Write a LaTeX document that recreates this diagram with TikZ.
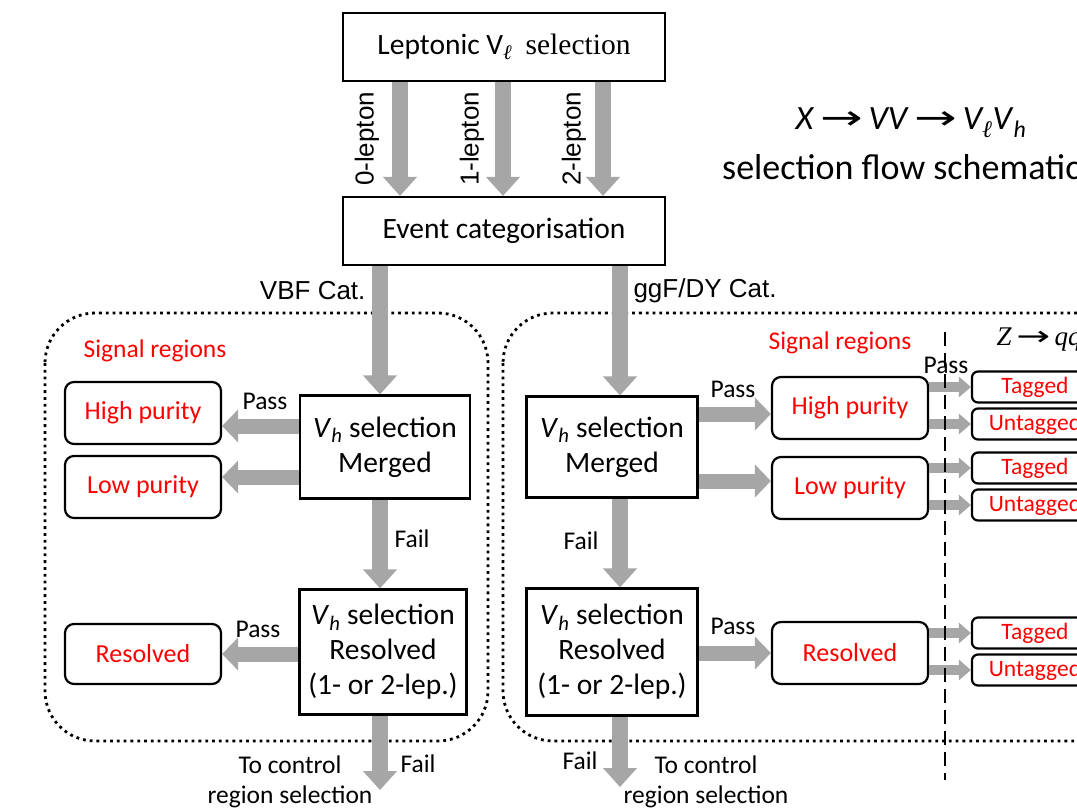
\documentclass[tikz,border=0pt]{standalone}
\usepackage{fontspec}
\setmainfont{Carlito}
\newfontfamily\arialfont{Liberation Sans}
\newfontfamily\serifont{Liberation Serif}
\newfontfamily\symfont{DejaVu Sans}
\usepackage{xcolor}
\usepackage{graphicx}
\usepackage{tikz}
\usetikzlibrary{arrows.meta, positioning, calc}

\definecolor{arrowgray}{RGB}{166,166,166}
\newcommand{\Vh}{\textit{V}\textsubscript{\textit{h}}}
\newcommand{\Vl}{V\textsubscript{{\serifont\itshape ℓ}}}
\newcommand{\rarr}{\,\scalebox{1.5}[1]{\symfont →}\,}

\begin{document}
\begin{tikzpicture}[
  x=1pt, y=-1pt,
  selbox/.style={draw, fill=white, line width=2.2pt, align=center, inner sep=0pt,
    font=\fontsize{29.5}{35}\selectfont},
  region/.style={draw, fill=white, rounded corners=9pt, line width=2.2pt, text=red,
    minimum width=156pt, minimum height=62pt, font=\fontsize{26}{30}\selectfont},
  tagbox/.style={draw, fill=white, rounded corners=6pt, line width=2.2pt, text=red,
    minimum width=126pt, minimum height=31pt, inner sep=0pt,
    font=\fontsize{23.5}{27}\selectfont},
  lbl/.style={font=\fontsize{25.5}{30}\selectfont},
  arlbl/.style={font=\arialfont\fontsize{26}{30}\selectfont},
  group/.style={line width=2.8pt, dash pattern=on 2.8pt off 4pt, rounded corners=50pt},
  fat/.style={line width=16pt, arrowgray, -{Triangle[length=19pt, width=33pt]}},
  fatH/.style={line width=15pt, arrowgray, -{Triangle[length=16pt, width=32pt]}},
  slim/.style={line width=10pt, arrowgray, -{Triangle[length=12pt, width=20pt]}},
]
  \useasboundingbox (0,0) rectangle (1077,807);
  \clip (0,0) rectangle (1077,807);

  % dotted category regions
  \draw[group] (45,313) rectangle (488,741);
  \draw[group] (503,313) rectangle (1140,741);

  \node (lep) [selbox, minimum width=322pt, minimum height=68pt] at (504,47)
    {Leptonic \Vl\ \ {\serifont selection}};
  \node (evt) [selbox, minimum width=322pt, minimum height=68pt] at (504,231)
    {Event categorisation};

  \node (mergL) [selbox, minimum width=170pt, minimum height=103pt] at (385,447)
    {\Vh\ selection\\Merged};
  \node (resL) [selbox, minimum width=167pt, minimum height=125pt] at (383,652)
    {\Vh\ selection\\Resolved\\(1- or 2-lep.)};
  \node (mergR) [selbox, minimum width=171pt, minimum height=101pt] at (612,447)
    {\Vh\ selection\\Merged};
  \node (resR) [selbox, minimum width=171pt, minimum height=127pt] at (612,652)
    {\Vh\ selection\\Resolved\\(1- or 2-lep.)};

  \node (hpL) [region] at (143,413) {High purity};
  \node (lpL) [region] at (143,487) {Low purity};
  \node (rsL) [region, minimum height=60pt] at (143,654) {Resolved};
  \node (hpR) [region] at (850,408) {High purity};
  \node (lpR) [region] at (850,488) {Low purity};
  \node (rsR) [region] at (850,653) {Resolved};

  \node (tg1) [tagbox] at (1035,387) {Tagged};
  \node (ut1) [tagbox] at (1035,424) {Untagged};
  \node (tg2) [tagbox] at (1035,468) {Tagged};
  \node (ut2) [tagbox] at (1035,505) {Untagged};
  \node (tg3) [tagbox] at (1035,633) {Tagged};
  \node (ut3) [tagbox] at (1035,670) {Untagged};

  \coordinate (ctlL) at (380,790);
  \coordinate (ctlR) at (620,787);

  % lepton channels
  \draw[fat] ([xshift=-104pt]lep.south) -- ([xshift=-104pt]evt.north);
  \draw[fat] ([xshift=-1pt]lep.south) -- ([xshift=-1pt]evt.north);
  \draw[fat] ([xshift=99pt]lep.south) -- ([xshift=99pt]evt.north);
  \node[arlbl, rotate=90] at ($(lep.south)!0.5!(evt.north)+(-137,0)$) {0-lepton};
  \node[arlbl, rotate=90] at ($(lep.south)!0.5!(evt.north)+(-32,0)$) {1-lepton};
  \node[arlbl, rotate=90] at ($(lep.south)!0.5!(evt.north)+(70,0)$) {2-lepton};

  % categories
  \draw[fat] ([xshift=-124pt]evt.south) -- ([xshift=-124pt]evt.south |- mergL.north);
  \draw[fat] ([xshift=116pt]evt.south) -- ([xshift=116pt]evt.south |- mergR.north);
  \node[arlbl, anchor=east] at (369,291) {VBF Cat.};
  \node[arlbl, anchor=west] at (630,291) {ggF/DY Cat.};

  \node[lbl, text=red] at (155,351) {Signal regions};
  \node[lbl, text=red] at (840,343) {Signal regions};

  % VBF branch
  \draw[fatH] ([yshift=21pt]mergL.west) -- ([yshift=-13pt]hpL.east);
  \draw[fatH] ([yshift=-30pt]mergL.west) -- ([yshift=10pt]lpL.east);
  \draw[fat] ([xshift=-5pt]mergL.south) -- ([xshift=-5pt]mergL.south |- resL.north);
  \draw[fatH] (rsL.east -| resL.west) -- (rsL.east);
  \draw[fat] (resL.south -| ctlL) -- (ctlL);
  \node[lbl] at (265,401) {Pass};
  \node[lbl] at (258,629) {Pass};
  \node[lbl] at (412,539) {Fail};
  \node[lbl] at (418,764) {Fail};
  \node[lbl, align=center] at (290,782) {To control\\region selection};

  % ggF/DY branch
  \draw[fatH] ([yshift=33pt]mergR.east) -- ([yshift=-6pt]hpR.west);
  \draw[fatH] ([yshift=-34pt]mergR.east) -- ([yshift=7pt]lpR.west);
  \draw[fat] ([xshift=8pt]mergR.south) -- ([xshift=8pt]mergR.south |- resR.north);
  \draw[fatH] (rsR.west -| resR.east) -- (rsR.west);
  \draw[fat] (resR.south -| ctlR) -- (ctlR);
  \node[lbl] at (733,389) {Pass};
  \node[lbl] at (733,626) {Pass};
  \node[lbl] at (581,541) {Fail};
  \node[lbl] at (580,761) {Fail};
  \node[lbl, align=center] at (706,782) {To control\\region selection};

  % Z -> qq tagging
  \draw[slim] (hpR.east |- tg1.west) -- (tg1.west);
  \draw[slim] (hpR.east |- ut1.west) -- (ut1.west);
  \draw[slim] (lpR.east |- tg2.west) -- (tg2.west);
  \draw[slim] (lpR.east |- ut2.west) -- (ut2.west);
  \draw[slim] (rsR.east |- tg3.west) -- (tg3.west);
  \draw[slim] (rsR.east |- ut3.west) -- (ut3.west);
  \node[lbl] at (946,365) {Pass};
  \node[font=\serifont\fontsize{27}{30}\selectfont, anchor=west] at (993,340)
    {\textit{Z}\rarr\textit{qq}};
  \draw[line width=1.5pt, dash pattern=on 14pt off 7pt] (945,332) -- (945,780);

  % title
  \node[font=\fontsize{34}{40}\selectfont] at (911,123)
    {\textit{X}\rarr\textit{VV}\rarr\textit{\Vl}\Vh};
  \node[font=\fontsize{36}{42}\selectfont, anchor=west, inner sep=0pt] at (722,167)
    {selection flow schematic};
\end{tikzpicture}
\end{document}
